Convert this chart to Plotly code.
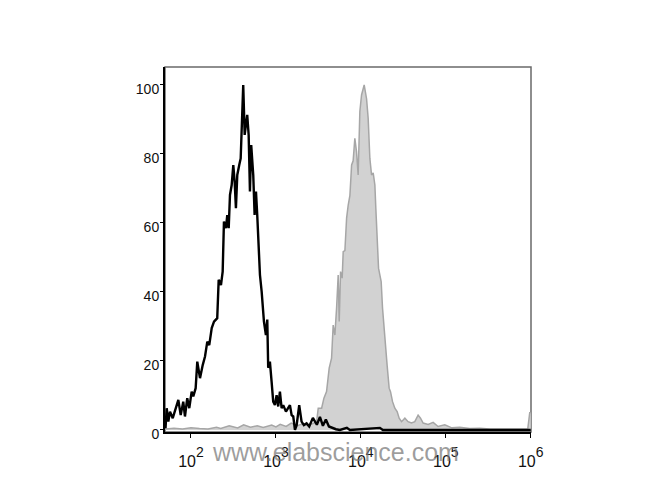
import plotly.graph_objects as go

# Histogram data (x given as log10 of fluorescence, y as % of max)
black_log10_x = [1.700, 1.714, 1.733, 1.753, 1.785, 1.812, 1.851, 1.879, 1.909, 1.929, 1.956,
                 1.980, 2.008, 2.027, 2.055, 2.074, 2.106, 2.138, 2.165, 2.192, 2.215, 2.244,
                 2.271, 2.309, 2.326, 2.353, 2.373, 2.388, 2.412, 2.427, 2.444, 2.459, 2.479,
                 2.498, 2.514, 2.529, 2.545, 2.568, 2.585, 2.615, 2.632, 2.647, 2.662, 2.679,
                 2.694, 2.709, 2.733, 2.749, 2.765, 2.780, 2.812, 2.832, 2.859, 2.882, 2.898,
                 2.909, 2.929, 2.949, 2.968, 2.988, 3.008, 3.027, 3.047, 3.067, 3.086, 3.118,
                 3.145, 3.165, 3.185, 3.204, 3.224, 3.244, 3.274, 3.302, 3.329, 3.361, 3.392,
                 3.435, 3.482, 3.518, 3.553, 3.588, 3.624, 3.671, 3.706, 3.753, 3.835, 3.871,
                 4.224, 4.259, 6.000]
black_count = [0.5, 6.3, 2.4, 5.3, 3.4, 5.3, 8.7, 4.3, 8.2, 3.9, 9.2,
               6.3, 11.1, 9.7, 12.1, 19.8, 15.0, 18.8, 21.3, 25.6, 24.6, 29.5,
               31.4, 32.4, 43.5, 42.0, 45.9, 60.4, 58.5, 62.3, 58.5, 68.1, 71.0,
               76.8, 72.0, 64.3, 73.9, 76.8, 78.7, 100.0, 85.5, 88.4, 91.3, 85.5,
               69.1, 82.6, 73.9, 62.3, 69.1, 62.3, 44.9, 40.1, 31.4, 27.5, 32.0,
               18.0, 19.8, 14.0, 8.2, 7.2, 10.1, 6.8, 11.1, 6.3, 7.2, 5.3,
               6.3, 7.2, 4.3, 3.9, 0.0, 1.4, 7.2, 2.4, 1.4, 1.9, 1.0,
               3.5, 1.5, 3.8, 1.2, 3.0, 1.0, 0.5, 0.2, 0.0, 0.6, 0.0,
               0.6, 0.0, 0.0]

gray_log10_x = [1.700, 1.800, 1.900, 2.000, 2.100, 2.200, 2.300, 2.350, 2.450, 2.550, 2.620,
                2.700, 2.780, 2.850, 2.950, 3.000, 3.050, 3.120, 3.180, 3.250, 3.320, 3.400,
                3.450, 3.479, 3.498, 3.538, 3.565, 3.596, 3.627, 3.655, 3.674, 3.694, 3.714,
                3.733, 3.745, 3.761, 3.780, 3.792, 3.812, 3.832, 3.851, 3.871, 3.891, 3.909,
                3.929, 3.949, 3.968, 3.988, 4.008, 4.039, 4.067, 4.086, 4.106, 4.126, 4.145,
                4.165, 4.176, 4.192, 4.208, 4.224, 4.239, 4.255, 4.271, 4.286, 4.309, 4.333,
                4.349, 4.373, 4.400, 4.427, 4.451, 4.479, 4.518, 4.556, 4.596, 4.635, 4.674,
                4.702, 4.733, 4.792, 4.851, 4.909, 4.988, 5.071, 5.165, 5.282, 5.400, 5.518,
                5.635, 5.753, 5.871, 5.965, 5.988, 6.000]
gray_count = [0.3, 0.5, 0.3, 0.6, 0.4, 0.3, 0.8, 0.4, 1.2, 0.6, 1.5,
              0.8, 1.2, 0.7, 1.4, 0.9, 1.6, 1.0, 2.0, 1.2, 1.8, 1.5,
              2.0, 2.4, 6.3, 6.3, 9.2, 11.1, 17.9, 20.8, 30.4, 27.5, 35.3,
              44.9, 31.4, 45.9, 44.0, 51.7, 52.0, 61.4, 65.2, 68.0, 76.8, 78.0,
              84.5, 80.6, 73.9, 92.3, 97.1, 100.0, 96.0, 90.3, 78.7, 73.9, 74.5,
              71.0, 64.3, 56.5, 46.9, 44.9, 43.0, 35.3, 30.4, 23.7, 18.8, 12.1,
              11.1, 8.2, 6.3, 5.3, 3.4, 2.4, 3.4, 2.4, 2.0, 2.4, 4.3,
              3.4, 2.0, 1.6, 2.2, 1.0, 1.5, 0.6, 0.8, 0.4, 0.5, 0.3,
              0.3, 0.2, 0.3, 0.3, 5.0, 5.0]

x_tick_exponents = [2, 3, 4, 5, 6]
y_tick_values = [0, 20, 40, 60, 80, 100]
watermark_text = "www.elabscience.com"

black_x = [10 ** e for e in black_log10_x]
gray_x = [10 ** e for e in gray_log10_x]

fig = go.Figure()
fig.add_trace(go.Scatter(
    x=gray_x, y=gray_count, mode="lines", fill="tozeroy",
    line=dict(color="#a6a6a6", width=1.5), fillcolor="#d2d2d2",
    hoverinfo="skip", showlegend=False))
fig.add_trace(go.Scatter(
    x=black_x, y=black_count, mode="lines",
    line=dict(color="#000000", width=2.4),
    hoverinfo="skip", showlegend=False))

font_family = "Liberation Sans, Arial, sans-serif"

fig.update_layout(
    width=670, height=500,
    margin=dict(l=157, r=147, t=59, b=76),
    paper_bgcolor="white", plot_bgcolor="white",
    font=dict(family=font_family, size=14, color="#111111"),
    xaxis=dict(
        type="log", range=[1.694, 6.003],
        tickvals=[10 ** e for e in x_tick_exponents],
        ticktext=[f"<span style='font-size:16px'>10</span><sup><span style='font-size:14px'>{e}</span></sup>"
                  for e in x_tick_exponents],
        ticks="outside", ticklen=4, tickwidth=1, tickcolor="#000",
        ticklabelstandoff=0,
        showline=True, linecolor="#000", linewidth=2,
        showgrid=False, zeroline=False,
        tickfont=dict(family=font_family, size=24, color="#111"),
    ),
    yaxis=dict(
        range=[-0.6, 105.2],
        tickvals=y_tick_values,
        ticks="outside", ticklen=3, tickwidth=1, tickcolor="#000",
        ticklabelstandoff=-2, ticklabelshift=4,
        showline=True, linecolor="#000", linewidth=2,
        showgrid=False, zeroline=False,
        tickfont=dict(family=font_family, size=14, color="#111"),
    ),
    shapes=[dict(type="rect", xref="paper", yref="paper", x0=0, y0=0, x1=1, y1=1,
                 line=dict(color="#6a6a6a", width=1.5), layer="below")],
    annotations=[dict(text=watermark_text, xref="paper", yref="paper",
                      x=0.467, y=-0.055, xanchor="center", yanchor="middle",
                      showarrow=False,
                      font=dict(family=font_family, size=25, color="rgba(120,120,120,0.72)"))],
)

fig.write_html("out.html")
